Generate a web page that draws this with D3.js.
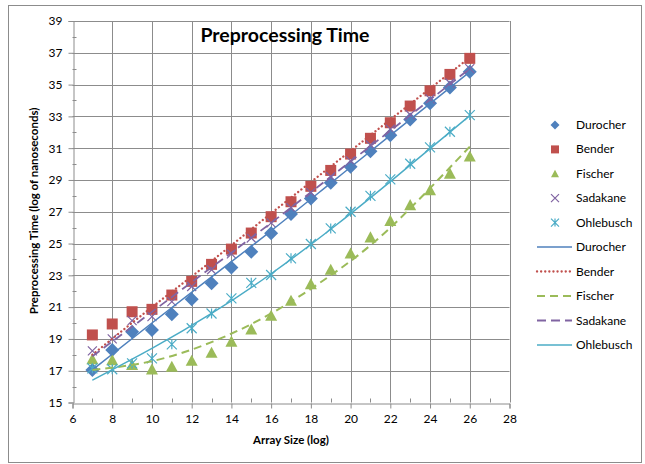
<!DOCTYPE html>
<html>
<head>
<script src="https://d3js.org/d3.v7.min.js"></script>
<style>
  body { margin: 0; background: #fff; }
  text { font-family: Lato, "Open Sans", sans-serif; fill: #000; }
</style>
</head>
<body>
<div id="chart"></div>
<script>
// array size (log) for every measured point
var sizes = [7, 8, 9, 10, 11, 12, 13, 14, 15, 16, 17, 18, 19, 20, 21, 22, 23, 24, 25, 26];

var durocher  = [17.05, 18.3, 19.45, 19.56, 20.55, 21.5, 22.5, 23.5, 24.48, 25.64, 26.86, 27.84, 28.82, 29.83, 30.8, 31.82, 32.81, 33.82, 34.82, 35.8];
var bender    = [19.25, 19.94, 20.71, 20.86, 21.76, 22.62, 23.69, 24.65, 25.66, 26.69, 27.63, 28.6, 29.6, 30.63, 31.62, 32.6, 33.65, 34.61, 35.64, 36.65];
var fischer   = [17.72, 17.67, 17.36, 17.09, 17.25, 17.63, 18.13, 18.83, 19.6, 20.46, 21.4, 22.45, 23.35, 24.38, 25.39, 26.43, 27.42, 28.36, 29.4, 30.48];
var sadakane  = [18.25, 19.0, 20.15, 20.4, 21.35, 22.3, 23.35, 24.35, 25.35, 26.3, 27.25, 28.2, 29.2, 30.2, 31.2, 32.2, 33.1, 34.1, 35.1, 36.0];
var ohlebusch = [17.15, 17.09, 17.46, 17.78, 18.66, 19.67, 20.6, 21.55, 22.53, 23.02, 24.07, 24.97, 25.95, 27.0, 28.0, 29.04, 30.02, 31.05, 32.03, 33.08];

// trend lines at a few sizes
var trendSizes     = [7, 10, 13, 16, 19, 22, 26];
var durocherTrend  = [17.05, 20.0, 22.9, 25.8, 28.8, 31.8, 35.8];
var benderTrend    = [18.0, 21.0, 23.9, 26.9, 29.85, 32.8, 36.7];
var fischerTrend   = [17.05, 17.6, 18.8, 20.6, 23.0, 26.0, 31.1];
var sadakaneTrend  = [17.9, 20.7, 23.5, 26.3, 29.2, 32.1, 36.0];
var ohlebuschTrend = [16.4, 18.4, 20.6, 23.1, 25.9, 28.9, 33.05];

var seriesNames = ["Durocher", "Bender", "Fischer", "Sadakane", "Ohlebusch"];
var xTicks = [6, 8, 10, 12, 14, 16, 18, 20, 22, 24, 26, 28];
var yTicks = [15, 17, 19, 21, 23, 25, 27, 29, 31, 33, 35, 37, 39];

var colors = {Durocher: "#4f81bd", Bender: "#c0504d", Fischer: "#9bbb59", Sadakane: "#8064a2", Ohlebusch: "#4bacc6"};
var shapes = {Durocher: "diamond", Bender: "square", Fischer: "triangle", Sadakane: "cross", Ohlebusch: "star"};
var dashes = {Durocher: null, Bender: "0.1,4", Fischer: "8,5", Sadakane: "9,5", Ohlebusch: null};
var widths = {Durocher: 1.5, Bender: 2.3, Fischer: 2, Sadakane: 1.8, Ohlebusch: 1.5};

var points = {Durocher: durocher, Bender: bender, Fischer: fischer, Sadakane: sadakane, Ohlebusch: ohlebusch};
var trends = {Durocher: durocherTrend, Bender: benderTrend, Fischer: fischerTrend, Sadakane: sadakaneTrend, Ohlebusch: ohlebuschTrend};

var W = 645, H = 464;
var svg = d3.select("#chart").append("svg").attr("width", W).attr("height", H);

// outer frame
svg.append("rect")
    .attr("x", 8.5).attr("y", 5.5)
    .attr("width", 633).attr("height", 457)
    .attr("fill", "#fff").attr("stroke", "#8c8c8c");

var x = d3.scaleLinear().domain([6, 28]).range([72.5, 509.5]);
var y = d3.scaleLinear().domain([15, 39]).range([402.5, 21]);

// gridlines
svg.append("g").selectAll("line.h").data(yTicks.slice(1)).enter().append("line")
    .attr("x1", x(6)).attr("x2", x(28))
    .attr("y1", d => Math.round(y(d)) + 0.5).attr("y2", d => Math.round(y(d)) + 0.5)
    .attr("stroke", "#8c8c8c");
svg.append("g").selectAll("line.v").data(xTicks.slice(1)).enter().append("line")
    .attr("x1", d => Math.round(x(d)) + 0.5).attr("x2", d => Math.round(x(d)) + 0.5)
    .attr("y1", y(15)).attr("y2", y(39))
    .attr("stroke", "#8c8c8c");

// axes
var xAxis = svg.append("g")
    .attr("transform", "translate(0," + (Math.round(y(15)) + 0.5) + ")")
    .call(d3.axisBottom(x).tickValues(xTicks).tickSize(5).tickPadding(6));
var yAxis = svg.append("g")
    .attr("transform", "translate(" + (Math.round(x(6)) + 0.5) + ",0)")
    .call(d3.axisLeft(y).tickValues(yTicks).tickSize(5).tickPadding(6));
[xAxis, yAxis].forEach(function (a) {
    a.select(".domain").attr("stroke", "#8c8c8c");
    a.selectAll(".tick line").attr("stroke", "#8c8c8c");
    a.selectAll("text").style("font-family", "Lato, sans-serif").style("font-size", "12px").attr("fill", "#000");
});

// minor ticks pointing into the plot
svg.append("g").selectAll("line").data(d3.range(7, 28, 2)).enter().append("line")
    .attr("x1", d => Math.round(x(d)) + 0.5).attr("x2", d => Math.round(x(d)) + 0.5)
    .attr("y1", y(15)).attr("y2", y(15) - 4).attr("stroke", "#8c8c8c");
svg.append("g").selectAll("line").data(d3.range(16, 39, 2)).enter().append("line")
    .attr("x1", x(6)).attr("x2", x(6) + 4)
    .attr("y1", d => Math.round(y(d)) + 0.5).attr("y2", d => Math.round(y(d)) + 0.5)
    .attr("stroke", "#8c8c8c");

// marker paths
function markerPath(shape, s) {
    var h = s / 2;
    if (shape === "diamond") return "M0," + (-h) + "L" + h + ",0L0," + h + "L" + (-h) + ",0Z";
    if (shape === "square") return "M" + (-h) + "," + (-h) + "h" + s + "v" + s + "h" + (-s) + "Z";
    if (shape === "triangle") return "M0," + (-h) + "L" + h + "," + (h * 0.85) + "L" + (-h) + "," + (h * 0.85) + "Z";
    if (shape === "cross") return "M" + (-h) + "," + (-h) + "L" + h + "," + h + "M" + (-h) + "," + h + "L" + h + "," + (-h);
    return "M" + (-h) + "," + (-h) + "L" + h + "," + h + "M" + (-h) + "," + h + "L" + h + "," + (-h) + "M0," + (-h) + "L0," + h;
}
function drawMarker(g, name, size) {
    var sh = shapes[name];
    var p = g.append("path").attr("d", markerPath(sh, size));
    if (sh === "cross" || sh === "star") p.attr("fill", "none").attr("stroke", colors[name]).attr("stroke-width", 1.2);
    else p.attr("fill", colors[name]);
}

var markerSizes = {Durocher: 14, Bender: 11, Fischer: 12, Sadakane: 9, Ohlebusch: 10};

// markers
["Bender", "Durocher", "Fischer", "Sadakane", "Ohlebusch"].forEach(function (name) {
    var g = svg.append("g");
    points[name].forEach(function (v, i) {
        var m = g.append("g").attr("transform", "translate(" + x(sizes[i]) + "," + y(v) + ")");
        drawMarker(m, name, markerSizes[name]);
    });
});

// trend lines
var line = d3.line()
    .x((d, i) => x(trendSizes[i]))
    .y(d => y(d))
    .curve(d3.curveNatural);
function styleLine(sel, name) {
    sel.attr("fill", "none")
        .attr("stroke", colors[name])
        .attr("stroke-width", widths[name])
        .attr("stroke-linecap", name === "Bender" ? "round" : "butt")
        .attr("stroke-dasharray", dashes[name]);
}
seriesNames.forEach(function (name) {
    svg.append("path").attr("d", line(trends[name])).call(styleLine, name);
});

// title and axis labels
svg.append("text").attr("x", 285).attr("y", 42).attr("text-anchor", "middle")
    .style("font-size", "19.5px").style("font-weight", "bold").text("Preprocessing Time");
svg.append("text").attr("x", 291).attr("y", 444).attr("text-anchor", "middle")
    .style("font-size", "11.5px").style("font-weight", "bold").text("Array Size (log)");
svg.append("text").attr("transform", "translate(38,211) rotate(-90)").attr("text-anchor", "middle")
    .style("font-size", "11.5px").style("font-weight", "bold").text("Preprocessing Time (log of nanoseconds)");

// legend
var legend = svg.append("g");
seriesNames.forEach(function (name, i) {
    var yy = 125 + i * 24.4;
    var m = legend.append("g").attr("transform", "translate(555," + yy + ")");
    drawMarker(m, name, name === "Durocher" ? 9 : 8);
    legend.append("text").attr("x", 576).attr("y", yy + 4).style("font-size", "12px").text(name);
});
seriesNames.forEach(function (name, i) {
    var yy = 247 + i * 24.5;
    legend.append("line")
        .attr("x1", 537).attr("x2", 572).attr("y1", yy).attr("y2", yy)
        .call(styleLine, name);
    legend.append("text").attr("x", 576).attr("y", yy + 4).style("font-size", "12px").text(name);
});
</script>
</body>
</html>
